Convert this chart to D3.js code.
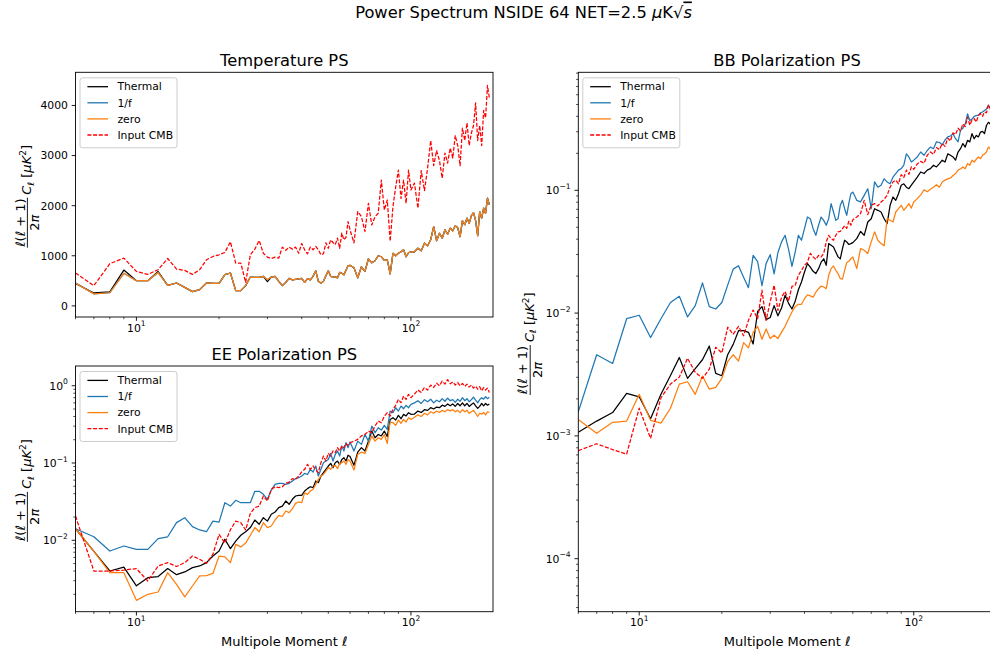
<!DOCTYPE html>
<html>
<head>
<meta charset="utf-8">
<script src="https://cdn.jsdelivr.net/npm/d3@7"></script>
<style>
  body { margin: 0; background: #fff; }
  svg text { font-family: "DejaVu Sans", sans-serif; fill: #000; }
</style>
</head>
<body>
<div id="main"></div>
<script>
// multipoles shown (every l up to 60, then every 2, then every 3)
const ells = [
  6, 7, 8, 9, 10, 11, 12, 13, 14, 15,
  16, 17, 18, 19, 20, 21, 22, 23, 24, 25,
  26, 27, 28, 29, 30, 31, 32, 33, 34, 35,
  36, 37, 38, 39, 40, 41, 42, 43, 44, 45,
  46, 47, 48, 49, 50, 51, 52, 53, 54, 55,
  56, 57, 58, 59, 60,
  62, 64, 66, 68, 70, 72, 74, 76, 78, 80,
  82, 84, 86, 88, 90, 92, 94, 96, 98, 100,
  103, 106, 109, 112, 115, 118, 121, 124, 127, 130,
  133, 136, 139, 142, 145, 148, 151, 154, 157, 160,
  163, 166, 169, 172, 175, 178, 181, 184, 187, 190,
  193
];

const seriesNames = ["Thermal", "1/f", "zero", "Input CMB"];

// ---- Temperature PS (uK^2)
const tempThermal = [
  450, 258, 278, 715, 503, 503, 685, 410, 457, 370,
  284, 324, 457, 450, 450, 622, 656, 304, 304, 404,
  576, 570, 570, 590, 483, 576, 590, 490, 404, 470,
  550, 520, 530, 540, 550, 470, 543, 520, 590, 700,
  490, 450, 490, 600, 700, 590, 576, 580, 560, 668,
  650, 620, 710, 800, 810,
  760, 560, 780, 690, 940, 860, 900, 1000, 980, 910,
  920, 640, 1050, 1000, 1050, 1080, 1120, 980, 1060, 1080,
  1080, 1150, 1100, 1250, 1200, 1320, 1580, 1300, 1450, 1350,
  1520, 1430, 1550, 1500, 1600, 1560, 1380, 1700, 1620, 1750,
  1650, 1800, 1860, 1700, 1400, 1880, 1750, 1950, 1850, 2150,
  2020
];
const tempZero = [
  457, 240, 262, 650, 503, 503, 665, 410, 457, 370,
  284, 324, 457, 450, 450, 622, 656, 304, 304, 404,
  576, 570, 570, 590, 520, 576, 590, 490, 404, 470,
  550, 520, 530, 540, 550, 470, 543, 520, 590, 700,
  490, 450, 490, 600, 700, 590, 576, 580, 560, 668,
  650, 620, 710, 800, 810,
  760, 560, 780, 690, 940, 860, 900, 1000, 980, 910,
  920, 640, 1050, 1000, 1050, 1080, 1120, 980, 1060, 1080,
  1080, 1150, 1100, 1250, 1200, 1320, 1580, 1300, 1450, 1350,
  1520, 1430, 1550, 1500, 1600, 1560, 1380, 1700, 1620, 1750,
  1650, 1800, 1860, 1700, 1400, 1880, 1750, 1950, 1850, 2150,
  2020
];
// 1/f sits exactly under the zero curve in temperature
const tempOneF = tempZero;
const tempCMB = [
  656, 404, 841, 954, 688, 628, 722, 946, 735, 708,
  628, 722, 920, 986, 1020, 1066, 1278, 855, 855, 470,
  1020, 1133, 1305, 1050, 973, 946, 973, 954, 1173, 1110,
  1173, 1133, 1173, 1050, 1245, 1120, 1040, 1173, 1120, 1186,
  1120, 1020, 1040, 1258, 1150, 1318, 1265, 1220, 1352, 1150,
  1451, 1318, 1370, 1682, 1517,
  1258, 1881, 1782, 1484, 2047, 1616, 1782, 1848, 2511, 1914,
  2113, 1290, 1980, 2378, 2710, 2146, 2511, 2047, 2710, 2312,
  2450, 1950, 2700, 2300, 2750, 3300, 2800, 3100, 2900, 2550,
  3050, 2850, 3150, 2950, 3400, 3200, 2800, 3550, 3300, 3650,
  3200, 3450, 3600, 4050, 3300, 3600, 3200, 3900, 3750, 4400,
  4150
];

// ---- EE Polarization PS
const eeThermal = [
  0.0141, 0.0072, 0.0040, 0.0045, 0.00257, 0.00328, 0.00339, 0.0043, 0.00359, 0.00389,
  0.00442, 0.00465, 0.00513, 0.00625, 0.00726, 0.0103, 0.00778, 0.00977, 0.0116, 0.0129,
  0.0146, 0.0183, 0.0161, 0.0196, 0.0177, 0.0217, 0.0232, 0.0264, 0.0277, 0.0322,
  0.0292, 0.0339, 0.0374, 0.0381, 0.0381, 0.0434, 0.0466, 0.0493, 0.0479, 0.0585,
  0.0556, 0.0678, 0.075, 0.0828, 0.0914, 0.0989, 0.0871, 0.101, 0.106, 0.0959,
  0.111, 0.117, 0.106, 0.126, 0.121,
  0.0933, 0.138, 0.158, 0.143, 0.192, 0.259, 0.212, 0.234, 0.224, 0.259,
  0.219, 0.366, 0.385, 0.360, 0.413, 0.374, 0.426, 0.406, 0.448, 0.426,
  0.43, 0.47, 0.45, 0.49, 0.48, 0.52, 0.50, 0.53, 0.52, 0.56,
  0.54, 0.58, 0.55, 0.58, 0.54, 0.59, 0.55, 0.60, 0.55, 0.59,
  0.54, 0.57, 0.60, 0.55, 0.51, 0.54, 0.59, 0.55, 0.59, 0.56,
  0.58
];
const eeOneF = [
  0.0141, 0.0111, 0.00726, 0.00843, 0.00763, 0.00763, 0.0105, 0.0111, 0.0169, 0.0196,
  0.015, 0.0136, 0.0129, 0.0177, 0.0172, 0.0306, 0.0277, 0.0329, 0.0306, 0.0306,
  0.0306, 0.043, 0.043, 0.0393, 0.0339, 0.0447, 0.0529, 0.0546, 0.0546, 0.0529,
  0.0546, 0.0585, 0.0627, 0.0645, 0.0678, 0.0733, 0.071, 0.0828, 0.0765, 0.0914,
  0.0678, 0.0828, 0.101, 0.106, 0.111, 0.133, 0.106, 0.129, 0.143, 0.123,
  0.166, 0.143, 0.183, 0.158, 0.187,
  0.143, 0.192, 0.174, 0.234, 0.192, 0.301, 0.246, 0.286, 0.267, 0.307,
  0.272, 0.47, 0.448, 0.519, 0.47, 0.546, 0.504, 0.557, 0.519, 0.574,
  0.60, 0.64, 0.59, 0.66, 0.62, 0.67, 0.60, 0.65, 0.62, 0.68,
  0.63, 0.69, 0.64, 0.66, 0.61, 0.67, 0.63, 0.70, 0.64, 0.68,
  0.62, 0.66, 0.71, 0.65, 0.60, 0.66, 0.70, 0.67, 0.72, 0.68,
  0.71
];
const eeZero = [
  0.0141, 0.0072, 0.00381, 0.00381, 0.00167, 0.0020, 0.00214, 0.00381, 0.00269, 0.00185,
  0.00256, 0.00345, 0.00349, 0.00372, 0.00625, 0.0061, 0.00513, 0.00885, 0.0082, 0.0092,
  0.0116, 0.0146, 0.0129, 0.0169, 0.0146, 0.0153, 0.0183, 0.021, 0.0203, 0.0239,
  0.0228, 0.0256, 0.030, 0.0313, 0.0306, 0.0413, 0.0393, 0.0434, 0.0457, 0.0529,
  0.0614, 0.0678, 0.071, 0.0785, 0.0871, 0.0828, 0.0914, 0.093, 0.0845, 0.099,
  0.101, 0.106, 0.096, 0.111, 0.106,
  0.0811, 0.129, 0.138, 0.133, 0.174, 0.224, 0.192, 0.212, 0.202, 0.234,
  0.179, 0.339, 0.332, 0.307, 0.36, 0.326, 0.366, 0.339, 0.385, 0.366,
  0.39, 0.42, 0.40, 0.44, 0.42, 0.46, 0.44, 0.47, 0.45, 0.48,
  0.46, 0.49, 0.47, 0.49, 0.46, 0.48, 0.45, 0.49, 0.46, 0.48,
  0.44, 0.46, 0.48, 0.44, 0.40, 0.44, 0.43, 0.45, 0.42, 0.46,
  0.45
];
const eeCMB = [
  0.0206, 0.0040, 0.0040, 0.00411, 0.0043, 0.00297, 0.00465, 0.00513, 0.00458, 0.00513,
  0.00625, 0.00568, 0.00503, 0.0066, 0.0119, 0.0092, 0.0137, 0.0177, 0.0169, 0.0136,
  0.0223, 0.0264, 0.0277, 0.0374, 0.0322, 0.0457, 0.0493, 0.048, 0.0493, 0.0546,
  0.0566, 0.0627, 0.0614, 0.0678, 0.0765, 0.0828, 0.096, 0.0828, 0.0914, 0.0811,
  0.075, 0.101, 0.123, 0.106, 0.133, 0.123, 0.143, 0.136, 0.158, 0.143,
  0.166, 0.158, 0.179, 0.169, 0.183,
  0.192, 0.202, 0.224, 0.234, 0.259, 0.246, 0.301, 0.349, 0.332, 0.405,
  0.448, 0.405, 0.494, 0.557, 0.665, 0.603, 0.735, 0.665, 0.773, 0.70,
  0.78, 0.88, 0.82, 0.95, 0.88, 1.02, 0.95, 1.08, 1.00, 1.15,
  1.05, 1.20, 1.06, 1.12, 1.02, 1.10, 1.00, 1.07, 0.98, 1.05,
  0.96, 1.02, 0.93, 0.99, 0.90, 0.97, 0.86, 0.95, 0.88, 0.93,
  0.82
];

// ---- BB Polarization PS
const bbThermal = [
  0.00107, 0.00132, 0.00155, 0.00222, 0.00208, 0.00138, 0.00218, 0.0031, 0.00435, 0.00294,
  0.00353, 0.00417, 0.00538, 0.00323, 0.00309, 0.00458, 0.00556, 0.00719, 0.00719, 0.00697,
  0.0056, 0.0103, 0.0113, 0.00885, 0.0092, 0.0115, 0.0095, 0.0110, 0.0140, 0.0120,
  0.0108, 0.0125, 0.0155, 0.0179, 0.0216, 0.0253, 0.0237, 0.0219, 0.0210, 0.0230,
  0.0260, 0.0277, 0.0245, 0.0368, 0.0357, 0.0346, 0.0315, 0.0287, 0.0277, 0.0335,
  0.0392, 0.0380, 0.0362, 0.0368, 0.0375,
  0.0404, 0.0462, 0.0430, 0.0552, 0.0587, 0.0708, 0.0687, 0.0666, 0.0587, 0.0536,
  0.0755, 0.0882, 0.0829, 0.0937, 0.110, 0.113, 0.106, 0.103, 0.110, 0.117,
  0.128, 0.141, 0.137, 0.146, 0.150, 0.160, 0.155, 0.165, 0.176, 0.170,
  0.198, 0.193, 0.187, 0.176, 0.205, 0.218, 0.240, 0.225, 0.255, 0.248,
  0.289, 0.263, 0.280, 0.272, 0.298, 0.302, 0.289, 0.337, 0.358, 0.347,
  0.36
];
const bbOneF = [
  0.00157, 0.00458, 0.00389, 0.0090, 0.0096, 0.00632, 0.0090, 0.0122, 0.0137, 0.0093,
  0.0115, 0.0176, 0.0113, 0.0108, 0.0122, 0.0169, 0.0228, 0.0243, 0.0196, 0.0161,
  0.0295, 0.0262, 0.0167, 0.0254, 0.0299, 0.0209, 0.031, 0.038, 0.043, 0.033,
  0.024, 0.0314, 0.0430, 0.0392, 0.0487, 0.0606, 0.0587, 0.0487, 0.0430, 0.0519,
  0.0606, 0.0569, 0.0519, 0.0587, 0.0779, 0.0666, 0.0569, 0.0587, 0.0755, 0.0829,
  0.0708, 0.0626, 0.0779, 0.0937, 0.0967,
  0.0829, 0.0805, 0.0910, 0.103, 0.0708, 0.117, 0.106, 0.110, 0.124, 0.117,
  0.113, 0.128, 0.137, 0.146, 0.150, 0.160, 0.198, 0.187, 0.170, 0.176,
  0.187, 0.205, 0.193, 0.211, 0.225, 0.218, 0.248, 0.245, 0.235, 0.257,
  0.272, 0.277, 0.289, 0.263, 0.248, 0.308, 0.32, 0.347, 0.42, 0.37,
  0.38, 0.40, 0.405, 0.41, 0.428, 0.434, 0.447, 0.46, 0.49, 0.475,
  0.49
];
const bbZero = [
  0.00136, 0.00105, 0.00129, 0.00132, 0.00218, 0.00134, 0.00127, 0.00168, 0.00264, 0.00276,
  0.00218, 0.00307, 0.0024, 0.00248, 0.00294, 0.00402, 0.00458, 0.00407, 0.00574, 0.00521,
  0.00697, 0.00778, 0.00612, 0.00743, 0.0062, 0.0066, 0.0062, 0.0070, 0.0078, 0.0090,
  0.0102, 0.0113, 0.0118, 0.0118, 0.0131, 0.0141, 0.0138, 0.0135, 0.0148, 0.0158,
  0.0166, 0.0163, 0.0158, 0.0203, 0.0230, 0.0242, 0.0223, 0.0210, 0.0191, 0.0189,
  0.0223, 0.0258, 0.0264, 0.0277, 0.0287,
  0.0230, 0.0335, 0.0325, 0.0306, 0.0380, 0.0459, 0.0392, 0.0368, 0.0353, 0.0588,
  0.0571, 0.0552, 0.0666, 0.0708, 0.0755, 0.0687, 0.0731, 0.0779, 0.0716, 0.0803,
  0.0855, 0.0918, 0.101, 0.0974, 0.102, 0.106, 0.111, 0.106, 0.117, 0.121,
  0.124, 0.126, 0.132, 0.137, 0.146, 0.149, 0.155, 0.150, 0.165, 0.160,
  0.176, 0.170, 0.179, 0.187, 0.181, 0.193, 0.198, 0.205, 0.225, 0.218,
  0.23
];
const bbCMB = [
  0.000758, 0.000863, 0.000773, 0.000711, 0.00168, 0.000955, 0.00204, 0.00264, 0.00301, 0.00429,
  0.0033, 0.00294, 0.00349, 0.00527, 0.00473, 0.00767, 0.00674, 0.00778, 0.00653, 0.00873,
  0.0106, 0.0090, 0.0154, 0.00873, 0.0124, 0.0169, 0.0105, 0.0135, 0.0150, 0.0125,
  0.0165, 0.0168, 0.0203, 0.0223, 0.0245, 0.0260, 0.0306, 0.0287, 0.0274, 0.0295,
  0.0287, 0.0306, 0.0380, 0.0430, 0.0404, 0.0392, 0.0430, 0.0459, 0.0462, 0.0487,
  0.0515, 0.0490, 0.0560, 0.0520, 0.0575,
  0.0606, 0.0646, 0.0829, 0.0634, 0.0755, 0.0779, 0.0746, 0.0803, 0.0843, 0.0910,
  0.106, 0.117, 0.121, 0.113, 0.134, 0.127, 0.146, 0.135, 0.155, 0.148,
  0.164, 0.172, 0.166, 0.193, 0.205, 0.196, 0.223, 0.214, 0.240, 0.228,
  0.266, 0.252, 0.294, 0.285, 0.32, 0.305, 0.347, 0.33, 0.394, 0.339,
  0.372, 0.383, 0.36, 0.407, 0.42, 0.40, 0.434, 0.428, 0.495, 0.46,
  0.505
];

const tempTicks = [0, 1000, 2000, 3000, 4000];

const ctx = {
    w: 990,
    h: 657,
    X_DOMAIN: [6, 199],
    LINE_W: 1.25,
    TICK_MAJOR: 3.8,
    TICK_MINOR: 2.2,
    TICK_FONT: 10.8,
    LABEL_FONT: 13,
    TITLE_FONT: 16.3,
    colors: ["#000000", "#1f77b4", "#ff7f0e", "#ff0000"],
    dashes: [null, null, null, "4,1.7"],
};

function supLabel(sel, exp) {
    sel.append("tspan").text("10");
    sel.append("tspan").attr("dy", -5.2).style("font-size", "7.6px")
        .text(exp < 0 ? "\u2212" + (-exp) : String(exp));
}

function drawLegend(g, left, top) {
    const lg = g.append("g").attr("transform", `translate(${left},${top})`);
    lg.append("rect").attr("width", 97).attr("height", 70).attr("rx", 2.5)
        .attr("fill", "#fff").attr("fill-opacity", 0.8)
        .attr("stroke", "#cccccc").attr("stroke-width", 1);
    seriesNames.forEach((name, i) => {
        const by = 12.7 + i * 16.1;
        lg.append("line").attr("x1", 7.4).attr("x2", 28)
            .attr("y1", by - 3.8).attr("y2", by - 3.8)
            .attr("stroke", ctx.colors[i]).attr("stroke-width", 1.3)
            .attr("stroke-dasharray", ctx.dashes[i]);
        lg.append("text").attr("x", 37.4).attr("y", by)
            .style("font-size", ctx.TICK_FONT + "px").text(name);
    });
}

function drawYLabel(svg, bx, cy) {
    const g = svg.append("g").attr("transform", `translate(${bx},${cy}) rotate(-90)`)
        .style("font-size", ctx.LABEL_FONT + "px");
    const num = g.append("text").attr("x", -28).attr("y", -6.5).attr("text-anchor", "middle")
        .style("white-space", "pre");
    num.append("tspan").style("font-style", "italic").text("\u2113");
    num.append("tspan").text("(");
    num.append("tspan").style("font-style", "italic").text("\u2113");
    num.append("tspan").text(" + 1)");
    g.append("line").attr("x1", -53).attr("x2", -3).attr("y1", -3.6).attr("y2", -3.6)
        .attr("stroke", "#000").attr("stroke-width", 0.9);
    const den = g.append("text").attr("x", -28).attr("y", 7.8).attr("text-anchor", "middle");
    den.append("tspan").text("2");
    den.append("tspan").style("font-style", "italic").text("\u03c0");
    const t = g.append("text").attr("x", 0).attr("y", 0).style("white-space", "pre");
    t.append("tspan").style("font-style", "italic").text("C");
    t.append("tspan").attr("dy", 2.6).style("font-size", "9px").style("font-style", "italic").text("\u2113");
    t.append("tspan").attr("dy", -2.6).text(" [");
    t.append("tspan").style("font-style", "italic").text("\u03bcK");
    t.append("tspan").attr("dy", -5).style("font-size", "9px").text("2");
    t.append("tspan").attr("dy", 5).text("]");
}

function drawPanel(svg, p) {
    const g = svg.append("g");
    const x = d3.scaleLog().domain(ctx.X_DOMAIN).range([p.left, p.left + p.w]);
    const y = (p.log ? d3.scaleLog() : d3.scaleLinear())
        .domain(p.yDomain).range([p.top + p.h, p.top]);
    const bottom = p.top + p.h;

    svg.append("clipPath").attr("id", "clip-" + p.id).append("rect")
        .attr("x", p.left).attr("y", p.top).attr("width", p.w).attr("height", p.h);

    const line = d3.line().x((d, i) => x(ells[i])).y(d => y(d));
    const plot = g.append("g").attr("clip-path", `url(#clip-${p.id})`);
    p.series.forEach((s, k) => {
        plot.append("path").attr("d", line(s))
            .attr("fill", "none")
            .attr("stroke", ctx.colors[k])
            .attr("stroke-width", ctx.LINE_W)
            .attr("stroke-linejoin", "round")
            .attr("stroke-dasharray", ctx.dashes[k]);
    });

    // spines
    g.append("rect").attr("x", p.left).attr("y", p.top).attr("width", p.w).attr("height", p.h)
        .attr("fill", "none").attr("stroke", "#000").attr("stroke-width", 0.9);

    // x ticks (log)
    const xMinor = [6, 7, 8, 9, 20, 30, 40, 50, 60, 70, 80, 90];
    xMinor.forEach(v => {
        g.append("line").attr("x1", x(v)).attr("x2", x(v))
            .attr("y1", bottom).attr("y2", bottom + ctx.TICK_MINOR)
            .attr("stroke", "#000").attr("stroke-width", 0.7);
    });
    [10, 100].forEach((v, i) => {
        g.append("line").attr("x1", x(v)).attr("x2", x(v))
            .attr("y1", bottom).attr("y2", bottom + ctx.TICK_MAJOR)
            .attr("stroke", "#000").attr("stroke-width", 0.9);
        const t = g.append("text").attr("x", x(v)).attr("y", bottom + 14.5)
            .attr("text-anchor", "middle").style("font-size", ctx.TICK_FONT + "px");
        supLabel(t, i + 1);
    });

    // y ticks
    if (p.log) {
        const lo = Math.floor(Math.log10(p.yDomain[0]));
        const hi = Math.ceil(Math.log10(p.yDomain[1]));
        for (let k = lo; k <= hi; k++) {
            for (let m = 1; m < 10; m++) {
                const v = m * Math.pow(10, k);
                if (v < p.yDomain[0] || v > p.yDomain[1]) continue;
                const major = m === 1;
                g.append("line").attr("x1", p.left).attr("x2", p.left - (major ? ctx.TICK_MAJOR : ctx.TICK_MINOR))
                    .attr("y1", y(v)).attr("y2", y(v))
                    .attr("stroke", "#000").attr("stroke-width", major ? 0.9 : 0.7);
                if (major) {
                    const t = g.append("text").attr("x", p.left - 7.6).attr("y", y(v) + 3.9)
                        .attr("text-anchor", "end").style("font-size", ctx.TICK_FONT + "px");
                    supLabel(t, k);
                }
            }
        }
    } else {
        tempTicks.forEach(v => {
            g.append("line").attr("x1", p.left).attr("x2", p.left - ctx.TICK_MAJOR)
                .attr("y1", y(v)).attr("y2", y(v)).attr("stroke", "#000").attr("stroke-width", 0.9);
            g.append("text").attr("x", p.left - 7.6).attr("y", y(v) + 3.9)
                .attr("text-anchor", "end").style("font-size", ctx.TICK_FONT + "px").text(v);
        });
    }

    // title
    g.append("text").attr("x", p.left + p.w / 2).attr("y", p.top - 6.5)
        .attr("text-anchor", "middle").style("font-size", ctx.TITLE_FONT + "px").text(p.title);

    if (p.xlabel) {
        const t = g.append("text").attr("x", p.left + p.w / 2).attr("y", 646)
            .attr("text-anchor", "middle").style("font-size", ctx.LABEL_FONT + "px")
            .style("white-space", "pre");
        t.append("tspan").text("Multipole Moment ");
        t.append("tspan").style("font-style", "italic").text("\u2113");
    }

    drawYLabel(svg, p.left - 44.5, p.top + p.h / 2);
    drawLegend(g, p.left + 4.5, p.top + 5.5);
}

function createViz() {
    const svg = d3.select("#main").append("svg")
        .attr("width", ctx.w).attr("height", ctx.h)
        .style("display", "block");

    const st = svg.append("text").attr("x", 523.5).attr("y", 17.5)
        .attr("text-anchor", "middle").style("font-size", ctx.TITLE_FONT + "px")
        .style("white-space", "pre");
    st.append("tspan").text("Power Spectrum NSIDE 64 NET=2.5 ");
    st.append("tspan").style("font-style", "italic").text("\u03bc");
    st.append("tspan").text("K\u221a");
    st.append("tspan").style("font-style", "italic").style("text-decoration", "overline").text("s");

    drawPanel(svg, {
        id: "tt", left: 75.5, top: 72.3, w: 417.5, h: 244.7,
        log: false, yDomain: [-222, 4662], title: "Temperature PS", xlabel: false,
        series: [tempThermal, tempOneF, tempZero, tempCMB]
    });
    drawPanel(svg, {
        id: "ee", left: 75.5, top: 366, w: 417.5, h: 245.7,
        log: true, yDomain: [1.19e-3, 1.8], title: "EE Polarization PS", xlabel: true,
        series: [eeThermal, eeOneF, eeZero, eeCMB]
    });
    drawPanel(svg, {
        id: "bb", left: 578.3, top: 72.3, w: 417.5, h: 539.4,
        log: true, yDomain: [3.7e-5, 0.914], title: "BB Polarization PS", xlabel: true,
        series: [bbThermal, bbOneF, bbZero, bbCMB]
    });
}

createViz();
</script>
</body>
</html>
